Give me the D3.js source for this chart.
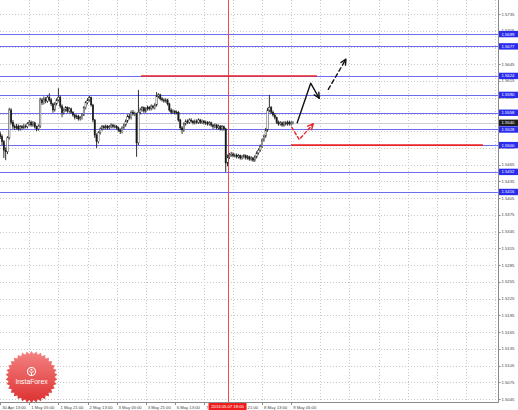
<!DOCTYPE html>
<html>
<head>
<meta charset="utf-8">
<script src="https://cdn.jsdelivr.net/npm/d3@7"></script>
<style>
html, body { margin: 0; padding: 0; background: #fff; }
svg { display: block; font-family: "Liberation Sans", Arial, sans-serif; }
</style>
</head>
<body>
<svg id="chart" width="518" height="410"></svg>
<script>
// H1 bars, first one is 30 Apr 13:00
var opens = [1.5520, 1.5515, 1.5506, 1.5491, 1.5488, 1.5513, 1.5563, 1.5541, 1.5533, 1.5531, 1.5534, 1.5529, 1.5533, 1.5531, 1.5534, 1.5533,
    1.5538, 1.5541, 1.5536, 1.5540, 1.5533, 1.5529, 1.5534, 1.5581, 1.5576, 1.5583, 1.5579, 1.5586, 1.5581, 1.5574, 1.5563, 1.5574,
    1.5581, 1.5586, 1.5570, 1.5558, 1.5563, 1.5567, 1.5561, 1.5565, 1.5559, 1.5554, 1.5550, 1.5552, 1.5547, 1.5549, 1.5554, 1.5567,
    1.5576, 1.5581, 1.5585, 1.5572, 1.5545, 1.5518, 1.5506, 1.5522, 1.5529, 1.5533, 1.5531, 1.5534, 1.5531, 1.5533, 1.5536, 1.5533,
    1.5534, 1.5531, 1.5527, 1.5524, 1.5531, 1.5536, 1.5543, 1.5552, 1.5549, 1.5559, 1.5556, 1.5556, 1.5504, 1.5559, 1.5563, 1.5567,
    1.5561, 1.5565, 1.5568, 1.5565, 1.5570, 1.5567, 1.5572, 1.5588, 1.5590, 1.5583, 1.5581, 1.5579, 1.5581, 1.5574, 1.5563, 1.5559,
    1.5561, 1.5558, 1.5559, 1.5545, 1.5531, 1.5527, 1.5538, 1.5543, 1.5541, 1.5545, 1.5543, 1.5540, 1.5543, 1.5541, 1.5545, 1.5541,
    1.5543, 1.5540, 1.5541, 1.5538, 1.5540, 1.5536, 1.5533, 1.5536, 1.5531, 1.5534, 1.5529, 1.5533, 1.5529, 1.5468, 1.5479, 1.5482,
    1.5484, 1.5481, 1.5482, 1.5479, 1.5481, 1.5477, 1.5479, 1.5481, 1.5477, 1.5479, 1.5475, 1.5477, 1.5473, 1.5479, 1.5486, 1.5491,
    1.5498, 1.5509, 1.5516, 1.5527, 1.5563, 1.5567, 1.5559, 1.5554, 1.5549, 1.5541, 1.5538, 1.5540, 1.5536, 1.5540, 1.5538, 1.5541,
    1.5538, 1.5540];
var closes = [1.5515, 1.5506, 1.5491, 1.5488, 1.5513, 1.5563, 1.5541, 1.5533, 1.5531, 1.5534, 1.5529, 1.5533, 1.5531, 1.5534, 1.5533, 1.5538,
    1.5541, 1.5536, 1.5540, 1.5533, 1.5529, 1.5534, 1.5581, 1.5576, 1.5583, 1.5579, 1.5586, 1.5581, 1.5574, 1.5563, 1.5574, 1.5581,
    1.5586, 1.5570, 1.5558, 1.5563, 1.5567, 1.5561, 1.5565, 1.5559, 1.5554, 1.5550, 1.5552, 1.5547, 1.5549, 1.5554, 1.5567, 1.5576,
    1.5581, 1.5585, 1.5572, 1.5545, 1.5518, 1.5506, 1.5522, 1.5529, 1.5533, 1.5531, 1.5534, 1.5531, 1.5533, 1.5536, 1.5533, 1.5534,
    1.5531, 1.5527, 1.5524, 1.5531, 1.5536, 1.5543, 1.5552, 1.5549, 1.5559, 1.5556, 1.5556, 1.5504, 1.5559, 1.5563, 1.5567, 1.5561,
    1.5565, 1.5568, 1.5565, 1.5570, 1.5567, 1.5572, 1.5588, 1.5590, 1.5583, 1.5581, 1.5579, 1.5581, 1.5574, 1.5563, 1.5559, 1.5561,
    1.5558, 1.5559, 1.5545, 1.5531, 1.5527, 1.5538, 1.5543, 1.5541, 1.5545, 1.5543, 1.5540, 1.5543, 1.5541, 1.5545, 1.5541, 1.5543,
    1.5540, 1.5541, 1.5538, 1.5540, 1.5536, 1.5533, 1.5536, 1.5531, 1.5534, 1.5529, 1.5533, 1.5529, 1.5468, 1.5479, 1.5482, 1.5484,
    1.5481, 1.5482, 1.5479, 1.5481, 1.5477, 1.5479, 1.5481, 1.5477, 1.5479, 1.5475, 1.5477, 1.5473, 1.5479, 1.5486, 1.5491, 1.5498,
    1.5509, 1.5516, 1.5527, 1.5563, 1.5567, 1.5559, 1.5554, 1.5549, 1.5541, 1.5538, 1.5540, 1.5536, 1.5540, 1.5538, 1.5541, 1.5538,
    1.5540, 1.5540];
var highs = [1.5524, 1.5519, 1.5509, 1.5496, 1.5516, 1.5567, 1.5566, 1.5545, 1.5537, 1.5538, 1.5537, 1.5536, 1.5536, 1.5538, 1.5537, 1.5541,
    1.5545, 1.5544, 1.5543, 1.5542, 1.5535, 1.5537, 1.5585, 1.5584, 1.5587, 1.5586, 1.5589, 1.5593, 1.5584, 1.5576, 1.5577, 1.5584,
    1.5602, 1.5589, 1.5573, 1.5567, 1.5570, 1.5569, 1.5568, 1.5567, 1.5561, 1.5556, 1.5555, 1.5554, 1.5552, 1.5557, 1.5570, 1.5579,
    1.5584, 1.5588, 1.5587, 1.5574, 1.5547, 1.5521, 1.5525, 1.5532, 1.5536, 1.5536, 1.5537, 1.5536, 1.5536, 1.5539, 1.5538, 1.5537,
    1.5536, 1.5533, 1.5530, 1.5534, 1.5539, 1.5546, 1.5555, 1.5556, 1.5562, 1.5563, 1.5560, 1.5558, 1.5599, 1.5567, 1.5570, 1.5569,
    1.5568, 1.5571, 1.5570, 1.5573, 1.5572, 1.5575, 1.5595, 1.5593, 1.5592, 1.5586, 1.5584, 1.5584, 1.5583, 1.5576, 1.5566, 1.5564,
    1.5563, 1.5562, 1.5561, 1.5547, 1.5534, 1.5541, 1.5546, 1.5546, 1.5548, 1.5548, 1.5545, 1.5546, 1.5546, 1.5548, 1.5547, 1.5546,
    1.5545, 1.5544, 1.5543, 1.5543, 1.5542, 1.5538, 1.5539, 1.5538, 1.5537, 1.5536, 1.5536, 1.5535, 1.5531, 1.5483, 1.5486, 1.5488,
    1.5487, 1.5485, 1.5485, 1.5484, 1.5483, 1.5482, 1.5484, 1.5483, 1.5482, 1.5481, 1.5480, 1.5479, 1.5482, 1.5489, 1.5494, 1.5501,
    1.5512, 1.5519, 1.5531, 1.5567, 1.5590, 1.5570, 1.5562, 1.5557, 1.5551, 1.5544, 1.5543, 1.5542, 1.5543, 1.5543, 1.5544, 1.5544,
    1.5543, 1.5543];
var lows = [1.5511, 1.5500, 1.5477, 1.5473, 1.5484, 1.5510, 1.5537, 1.5529, 1.5527, 1.5528, 1.5526, 1.5526, 1.5528, 1.5529, 1.5530, 1.5530,
    1.5535, 1.5533, 1.5533, 1.5530, 1.5525, 1.5526, 1.5531, 1.5572, 1.5573, 1.5575, 1.5576, 1.5578, 1.5570, 1.5558, 1.5560, 1.5571,
    1.5578, 1.5566, 1.5550, 1.5555, 1.5560, 1.5558, 1.5558, 1.5556, 1.5551, 1.5546, 1.5547, 1.5544, 1.5544, 1.5546, 1.5552, 1.5564,
    1.5573, 1.5578, 1.5569, 1.5541, 1.5513, 1.5495, 1.5503, 1.5519, 1.5526, 1.5528, 1.5528, 1.5528, 1.5528, 1.5530, 1.5530, 1.5530,
    1.5528, 1.5524, 1.5520, 1.5521, 1.5528, 1.5533, 1.5540, 1.5546, 1.5546, 1.5553, 1.5552, 1.5479, 1.5500, 1.5555, 1.5560, 1.5558,
    1.5558, 1.5562, 1.5562, 1.5562, 1.5564, 1.5564, 1.5569, 1.5584, 1.5580, 1.5578, 1.5576, 1.5576, 1.5571, 1.5560, 1.5556, 1.5556,
    1.5555, 1.5555, 1.5542, 1.5527, 1.5520, 1.5524, 1.5535, 1.5538, 1.5538, 1.5540, 1.5537, 1.5537, 1.5538, 1.5538, 1.5538, 1.5538,
    1.5537, 1.5536, 1.5535, 1.5535, 1.5533, 1.5529, 1.5530, 1.5528, 1.5528, 1.5526, 1.5526, 1.5526, 1.5452, 1.5462, 1.5475, 1.5479,
    1.5478, 1.5478, 1.5476, 1.5476, 1.5474, 1.5474, 1.5476, 1.5474, 1.5474, 1.5472, 1.5472, 1.5470, 1.5470, 1.5476, 1.5483, 1.5488,
    1.5495, 1.5506, 1.5513, 1.5524, 1.5559, 1.5556, 1.5551, 1.5546, 1.5538, 1.5535, 1.5535, 1.5533, 1.5533, 1.5535, 1.5535, 1.5535,
    1.5535, 1.5537];

// one label every 16 bars
var timeLabels = ["30 Apr 13:00", "1 May 05:00", "1 May 21:00", "2 May 13:00", "3 May 05:00", "3 May 21:00",
    "6 May 13:00", "7 May 05:00", "7 May 21:00", "8 May 13:00", "9 May 05:00"];
var priceTicks = [1.5045, 1.5075, 1.5105, 1.5135, 1.5165, 1.5195, 1.5225, 1.5255, 1.5285, 1.5315, 1.5345, 1.5375,
    1.5405, 1.5435, 1.5465, 1.5495, 1.5525, 1.5555, 1.5585, 1.5615, 1.5645, 1.5675, 1.5705, 1.5735];
var levels = [1.5699, 1.5677, 1.5624, 1.5590, 1.5558, 1.5528, 1.5500, 1.5452, 1.5416];
var lastPrice = 1.5540;
var cursorBar = 125;
var cursorLabel = "2013.05.07 18:00";

// drawn on top: [fromBar, toBar, price]
var redSegments = [[77.4, 174.2, 1.5624], [159.9, 265.4, 1.5500]];
// forecast arrows as [bar, price]
var arrowMain = [[163.3, 1.5540], [170.7, 1.5611], [175.4, 1.5584]];
var arrowDashed = [[180.4, 1.5600], [190.1, 1.5654]];
var arrowRed = [[160.3, 1.5532], [164.4, 1.5510], [172.1, 1.5538]];

var svg = d3.select("#chart");
var W = 498, H = 402;

var x = d3.scaleLinear().domain([0, 16]).range([0.2, 29.3]);
var y = d3.scaleLinear().domain([1.5045, 1.5735]).range([399, 14]);

function crisp(v) { return Math.round(v) + 0.5; }

var bars = closes.map(function (c, i) {
    return { i: i, o: opens[i], h: highs[i], l: lows[i], c: c };
});

// grid
var grid = svg.append("g").attr("stroke", "#c9c9c9").attr("stroke-dasharray", "1,2").attr("stroke-width", 1);
grid.selectAll("line.h").data(priceTicks).enter().append("line")
    .attr("x1", 0).attr("x2", W)
    .attr("y1", function (d) { return crisp(y(d)); })
    .attr("y2", function (d) { return crisp(y(d)); });
grid.selectAll("line.v").data(d3.range(1, 18)).enter().append("line")
    .attr("y1", 0).attr("y2", H)
    .attr("x1", function (n) { return crisp(x(n * 16)); })
    .attr("x2", function (n) { return crisp(x(n * 16)); });

// levels
svg.append("g").selectAll("line").data(levels).enter().append("line")
    .attr("x1", 0).attr("x2", W)
    .attr("y1", function (d) { return crisp(y(d)); })
    .attr("y2", function (d) { return crisp(y(d)); })
    .attr("stroke", "#6c6cf2").attr("stroke-width", 1);

// bid line
svg.append("line")
    .attr("x1", 0).attr("x2", W)
    .attr("y1", crisp(y(lastPrice))).attr("y2", crisp(y(lastPrice)))
    .attr("stroke", "#d0d0d0").attr("stroke-width", 1);

// cursor line
svg.append("line")
    .attr("x1", crisp(x(cursorBar))).attr("x2", crisp(x(cursorBar)))
    .attr("y1", 0).attr("y2", H)
    .attr("stroke", "#f24a4a").attr("stroke-width", 1);

// candles
var cg = svg.append("g");
cg.selectAll("line").data(bars).enter().append("line")
    .attr("x1", function (d) { return x(d.i); })
    .attr("x2", function (d) { return x(d.i); })
    .attr("y1", function (d) { return y(d.h); })
    .attr("y2", function (d) { return y(d.l); })
    .attr("stroke", "#1a1a1a").attr("stroke-width", 0.9);
cg.selectAll("rect").data(bars).enter().append("rect")
    .attr("x", function (d) { return x(d.i) - 0.7; })
    .attr("width", 1.4)
    .attr("y", function (d) { return y(Math.max(d.o, d.c)); })
    .attr("height", function (d) { return Math.max(0.8, Math.abs(y(d.o) - y(d.c))); })
    .attr("fill", function (d) { return d.c >= d.o ? "#ffffff" : "#1a1a1a"; })
    .attr("stroke", "#1a1a1a").attr("stroke-width", 0.4);

// red horizontal lines
svg.append("g").selectAll("line").data(redSegments).enter().append("line")
    .attr("x1", function (d) { return x(d[0]); })
    .attr("x2", function (d) { return x(d[1]); })
    .attr("y1", function (d) { return y(d[2]); })
    .attr("y2", function (d) { return y(d[2]); })
    .attr("stroke", "#e8232a").attr("stroke-width", 1.6);

// arrows
function arrow(points, color, dash) {
    var pts = points.map(function (p) { return [x(p[0]), y(p[1])]; });
    var g = svg.append("g").attr("fill", "none").attr("stroke", color)
        .attr("stroke-width", 1.4).attr("stroke-linecap", "round").attr("stroke-linejoin", "round");
    g.append("path").attr("d", d3.line()(pts)).attr("stroke-dasharray", dash);
    var a = pts[pts.length - 2], b = pts[pts.length - 1];
    var ang = Math.atan2(b[1] - a[1], b[0] - a[0]);
    var len = 6, spread = 0.45;
    g.append("path").attr("d", d3.line()([
        [b[0] - len * Math.cos(ang - spread), b[1] - len * Math.sin(ang - spread)],
        b,
        [b[0] - len * Math.cos(ang + spread), b[1] - len * Math.sin(ang + spread)]
    ]));
}
arrow(arrowMain, "#111", null);
arrow(arrowDashed, "#111", "4,3");
arrow(arrowRed, "#e8232a", "3,2.5");

// frame
svg.append("line").attr("x1", W + 0.5).attr("x2", W + 0.5).attr("y1", 0).attr("y2", H + 0.5)
    .attr("stroke", "#8a8a8a");
svg.append("line").attr("x1", 0).attr("x2", W + 0.5).attr("y1", H + 0.5).attr("y2", H + 0.5)
    .attr("stroke", "#8a8a8a");

// price axis (labels fully covered by a level tag are not drawn)
var visibleTicks = priceTicks.filter(function (t) {
    return levels.every(function (v) { return Math.abs(y(t) - y(v)) > 2.5; });
});
var pa = svg.append("g").attr("font-size", 4.2).attr("fill", "#444");
pa.selectAll("line").data(priceTicks).enter().append("line")
    .attr("x1", W).attr("x2", W + 2.5)
    .attr("y1", function (d) { return crisp(y(d)); })
    .attr("y2", function (d) { return crisp(y(d)); })
    .attr("stroke", "#8a8a8a");
pa.selectAll("text").data(visibleTicks).enter().append("text")
    .attr("x", W + 3.5).attr("y", function (d) { return y(d) + 1.5; })
    .text(function (d) { return d.toFixed(4); });

function priceTag(v, bg) {
    var g = svg.append("g");
    g.append("rect").attr("x", W + 1).attr("y", y(v) - 3.2).attr("width", 19).attr("height", 6.4).attr("fill", bg);
    g.append("text").attr("x", W + 3.5).attr("y", y(v) + 1.5)
        .attr("font-size", 4.2).attr("fill", "#fff").text(v.toFixed(4));
}
levels.forEach(function (v) { priceTag(v, "#2b2bf0"); });
priceTag(lastPrice, "#1e1e1e");

// time axis
var ta = svg.append("g").attr("font-size", 4.2).attr("fill", "#444");
ta.selectAll("line").data(timeLabels).enter().append("line")
    .attr("x1", function (d, n) { return crisp(x(n * 16)); })
    .attr("x2", function (d, n) { return crisp(x(n * 16)); })
    .attr("y1", H).attr("y2", H + 3)
    .attr("stroke", "#8a8a8a");
ta.selectAll("text").data(timeLabels).enter().append("text")
    .attr("x", function (d, n) { return x(n * 16) + 2; })
    .attr("y", 408.5)
    .text(function (d) { return d; });

var cl = svg.append("g");
cl.append("rect").attr("x", x(cursorBar) - 19).attr("y", H + 1).attr("width", 38).attr("height", 7).attr("fill", "#ee1c1c");
cl.append("text").attr("x", x(cursorBar)).attr("y", 408.3).attr("text-anchor", "middle")
    .attr("font-size", 4.2).attr("fill", "#fff").text(cursorLabel);

// logo badge
var defs = svg.append("defs");
var grad = defs.append("linearGradient").attr("id", "badge").attr("x1", 0).attr("y1", 0).attr("x2", 0).attr("y2", 1);
grad.append("stop").attr("offset", "0%").attr("stop-color", "#f48383");
grad.append("stop").attr("offset", "100%").attr("stop-color", "#dd3030");

var logo = svg.append("g").attr("transform", "translate(31.5,377)");
var teeth = 34;
var star = d3.range(teeth * 2).map(function (k) {
    var r = k % 2 ? 23.2 : 26;
    var a = k * Math.PI / teeth - Math.PI / 2;
    return [r * Math.cos(a), r * Math.sin(a)];
});
logo.append("path").attr("d", d3.line()(star) + "Z").attr("fill", "url(#badge)");
logo.append("circle").attr("cy", -5.5).attr("r", 4).attr("fill", "none").attr("stroke", "#fff").attr("stroke-width", 1.1);
logo.append("circle").attr("cy", -7.2).attr("r", 1).attr("fill", "#fff");
logo.append("path").attr("d", "M-2.2,-5.6 L0,-4.4 L2.2,-5.6 M0,-4.4 L0,-1.6")
    .attr("stroke", "#fff").attr("stroke-width", 1).attr("fill", "none");
logo.append("text").attr("y", 7.2).attr("text-anchor", "middle")
    .attr("font-size", 6.8).attr("fill", "#fff").text("InstaForex");
</script>
</body>
</html>
